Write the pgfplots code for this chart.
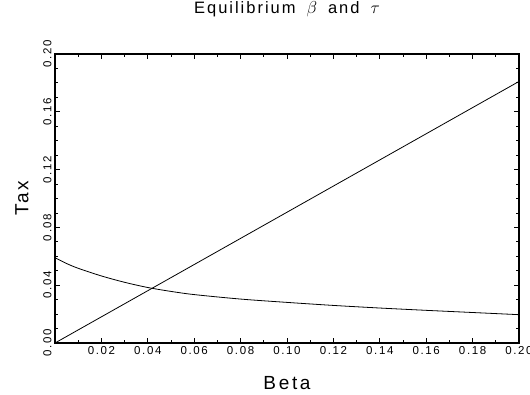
\documentclass[border=0pt]{standalone}
\usepackage{fontspec}
\setmainfont{Liberation Sans}
\newfontfamily\tickfont[LetterSpace=14]{Liberation Sans}
\newfontfamily\labfont[LetterSpace=14]{Liberation Sans}
\newfontfamily\titfont[LetterSpace=12]{Liberation Sans}
\usepackage{pgfplots}
\pgfplotsset{compat=1.18}
\begin{document}
\begin{tikzpicture}
\useasboundingbox (0,0) rectangle (530pt,395pt);
\begin{axis}[
  at={(55pt,52pt)}, anchor=south west,
  scale only axis, width=464pt, height=289pt,
  xmin=0, xmax=0.2, ymin=0, ymax=0.2,
  axis line style={line width=1.6pt, black},
  tick align=inside,
  xtick pos=both, ytick pos=both,
  xticklabel pos=bottom, yticklabel pos=left,
  scaled ticks=false,
  xtick={0.02,0.04,0.06,0.08,0.10,0.12,0.14,0.16,0.18,0.20},
  minor xtick={0.01,0.03,0.05,0.07,0.09,0.11,0.13,0.15,0.17,0.19},
  ytick={0,0.04,0.08,0.12,0.16,0.20},
  minor ytick={0.01,0.02,0.03,0.05,0.06,0.07,0.09,0.10,0.11,0.13,0.14,0.15,0.17,0.18,0.19},
  major tick length=5pt, minor tick length=3pt,
  every tick/.style={black, line width=0.8pt},
  /pgf/number format/.cd, fixed, fixed zerofill, precision=2, assume math mode=true,
  /pgfplots/.cd,
  xticklabel style={font=\tickfont\fontsize{11.5}{13}\selectfont},
  yticklabel style={font=\tickfont\fontsize{11.5}{13}\selectfont, rotate=90, anchor=south},
  title={\titfont\fontsize{16.5}{19}\selectfont Equilibrium\hspace{11pt}$\beta$\hspace{11pt}and\hspace{11pt}$\tau$},
  title style={at={(axis description cs:0.5,1.135)}, anchor=center},
  xlabel={\labfont\fontsize{19}{22}\selectfont Beta},
  xlabel style={at={(axis description cs:0.5,-0.1384)}, anchor=center},
  ylabel={\labfont\fontsize{19}{22}\selectfont Tax},
  ylabel style={at={(axis description cs:-0.0711,0.5)}, anchor=center, rotate=0},
]
\addplot[black, line width=0.8pt] coordinates {(0,0) (0.1,0.0905) (0.2,0.181)};
\addplot[black, line width=0.8pt, smooth] coordinates {
(0,0.0590) (0.005,0.0550) (0.01,0.0517) (0.02,0.0464) (0.03,0.0420) (0.04,0.0384)
(0.05,0.0357) (0.06,0.0335) (0.08,0.0304) (0.10,0.0281) (0.12,0.0260)
(0.14,0.0242) (0.16,0.0226) (0.18,0.0211) (0.20,0.0196)};
\end{axis}
\end{tikzpicture}
\end{document}
